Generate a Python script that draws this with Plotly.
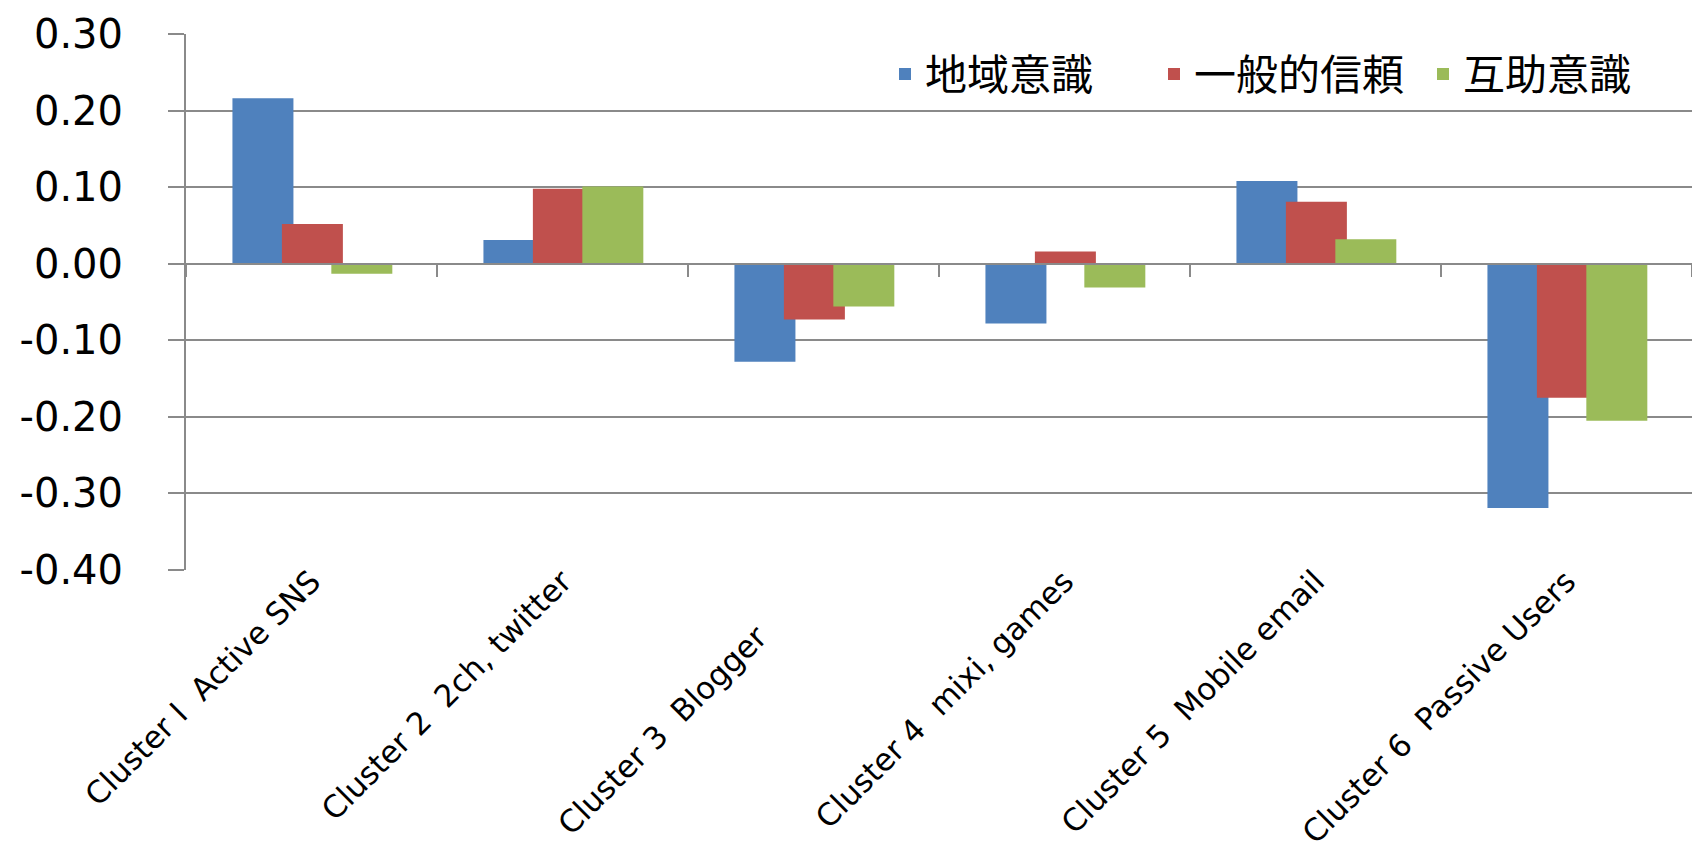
import plotly.graph_objects as go

categories = [
    "Cluster I\u00a0\u00a0Active SNS",
    "Cluster 2\u00a0\u00a02ch, twitter",
    "Cluster 3\u00a0\u00a0Blogger" + "\u00a0" * 8,
    "Cluster 4\u00a0\u00a0mixi, games",
    "Cluster 5\u00a0\u00a0Mobile email",
    "Cluster 6\u00a0\u00a0Passive Users",
]
series_names = ["地域意識", "一般的信頼", "互助意識"]
regional = [0.216, 0.031, -0.128, -0.078, 0.108, -0.319]
trust = [0.052, 0.098, -0.073, 0.016, 0.081, -0.175]
mutual = [-0.013, 0.101, -0.056, -0.031, 0.032, -0.205]
colors = ["#4F81BD", "#C0504D", "#9BBB59"]

y_range = [-0.40, 0.30]
y_ticks = [-0.40, -0.30, -0.20, -0.10, 0.00, 0.10, 0.20, 0.30]
y_tick_labels = ["-0.40", "-0.30", "-0.20", "-0.10", "0.00", "0.10", "0.20", "0.30"]

bar_width = 0.243
step = 0.197
first_offset = -0.315

fig = go.Figure()
for i, (name, vals) in enumerate(zip(series_names, [regional, trust, mutual])):
    fig.add_trace(go.Bar(
        x=categories, y=vals, name=name,
        marker=dict(color=colors[i], line=dict(width=0)),
        width=bar_width, offset=first_offset + i * step,
    ))

# helper trace for the category axis drawn at y = 0
fig.add_trace(go.Scatter(
    x=categories, y=[0] * len(categories), xaxis="x2", yaxis="y",
    mode="markers", marker=dict(opacity=0), showlegend=False, hoverinfo="skip",
))

grid = "#8A8A8A"
zero_pos = (0 - y_range[0]) / (y_range[1] - y_range[0])

fig.update_layout(
    width=1692, height=857,
    margin=dict(l=186, r=0, t=34, b=287, autoexpand=False),
    paper_bgcolor="white", plot_bgcolor="white",
    barmode="overlay",
    showlegend=True,
    legend=dict(
        orientation="h", x=1.0, xanchor="right", y=0.925, yanchor="middle",
        font=dict(family="Noto Sans CJK JP", size=42, color="black"),
        bgcolor="rgba(0,0,0,0)", itemwidth=30,
        entrywidth=224, entrywidthmode="pixels",
    ),
    xaxis=dict(
        type="category", showgrid=False, showline=False, ticks="",
        automargin=False, ticklabelstandoff=-14,
        tickangle=-45, tickfont=dict(family="DejaVu Sans", size=31, color="black"),
        range=[-0.5, 5.5],
    ),
    xaxis2=dict(
        type="category", overlaying="x", matches="x", anchor="free", position=zero_pos,
        showline=True, linecolor=grid, linewidth=2,
        ticks="outside", ticklen=12, tickwidth=2, tickcolor=grid,
        tickson="boundaries", showticklabels=False, showgrid=False,
    ),
    yaxis=dict(
        range=y_range, tickvals=y_ticks, ticktext=y_tick_labels,
        automargin=False,
        showgrid=True, gridcolor=grid, gridwidth=2,
        showline=True, linecolor=grid, linewidth=2,
        ticks="outside", ticklen=16, tickwidth=2, tickcolor=grid,
        zeroline=False, ticklabelstandoff=37,
        tickfont=dict(family="DejaVu Sans", size=40, color="black"),
    ),
)

fig.write_html("out.html")
